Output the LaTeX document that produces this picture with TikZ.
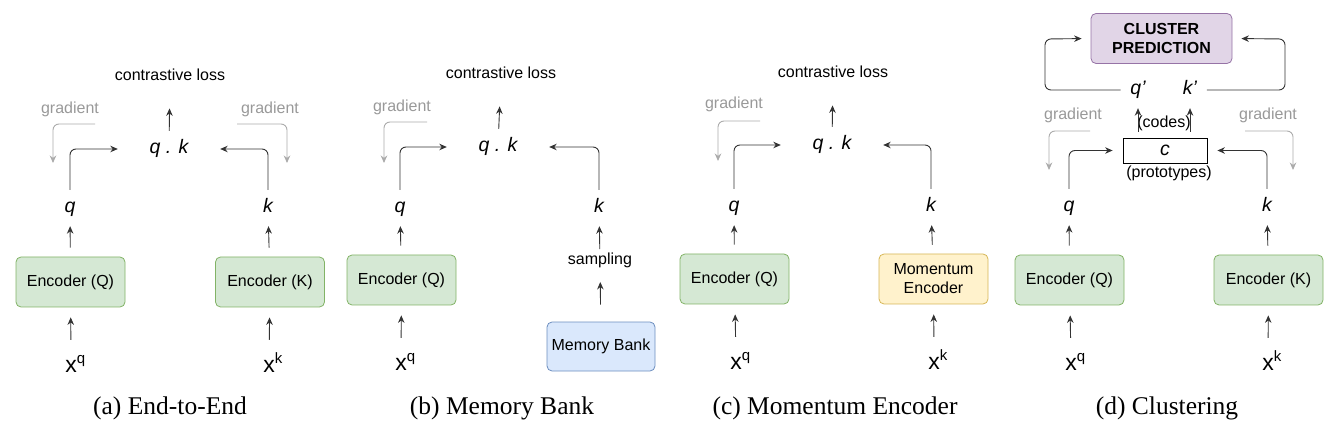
\documentclass[tikz,border=0pt]{standalone}
\usepackage{fontspec}
\setmainfont{Liberation Serif}
\setsansfont{Liberation Sans}
\usetikzlibrary{arrows.meta}
\definecolor{encfill}{HTML}{D5E8D4}
\definecolor{encdraw}{HTML}{82B366}
\definecolor{memfill}{HTML}{DAE8FC}
\definecolor{memdraw}{HTML}{6C8EBF}
\definecolor{momfill}{HTML}{FFF2CC}
\definecolor{momdraw}{HTML}{D6B656}
\definecolor{clusfill}{HTML}{E1D5E7}
\definecolor{clusdraw}{HTML}{9673A6}
\newcommand{\xin}[1]{x\rlap{\raisebox{9pt}{\fontsize{15}{15}\selectfont #1}}}
\begin{document}
\begin{tikzpicture}[x=1pt,y=-1pt,
    txt/.style={font=\sffamily\fontsize{16}{19}\selectfont},
    box/.style={txt,draw,rounded corners=5pt,minimum width=109pt,minimum height=50pt,line width=0.8pt,align=center},
    enc/.style={box,fill=encfill,draw=encdraw},
    lbl/.style={font=\sffamily\itshape\fontsize{19.5}{22}\selectfont,text height=13pt,text depth=4pt,inner sep=9.5pt},
    qk/.style={lbl,minimum width=102pt},
    inp/.style={font=\sffamily\fontsize{23}{25}\selectfont,text height=16pt,text depth=0pt,inner sep=16pt},
    captxt/.style={font=\rmfamily\fontsize{25.5}{28}\selectfont},
    gradtxt/.style={txt,black!40},
    arr/.style={-{Stealth[length=7.5pt,width=6.5pt]},line width=0.9pt,black!80},
    hook/.style={arr,rounded corners=6pt},
    grad/.style={arr,black!33,rounded corners=6pt}]
  \useasboundingbox (0,0) rectangle (1332,435);

  % (a) end-to-end
  \node[txt](lossa) at (170,75) {contrastive loss};
  \node[qk](qka) at (169,149) {q . k};
  \node[gradtxt](gla) at (70,109) {gradient};
  \node[gradtxt](gra) at (270,109) {gradient};
  \node[lbl](qa) at (70,208) {q};
  \node[lbl](ka) at (268,208) {k};
  \node[enc](encqa) at (70.5,282) {Encoder (Q)};
  \node[enc](encka) at (270,282) {Encoder (K)};
  \node[inp](xqa) at (71,364) {\xin{q}};
  \node[inp](xka) at (269,364) {\xin{k}};
  \node[captxt](capa) at (170,408) {(a) End-to-End};
  \coordinate (gla1) at (95,124);
  \coordinate (gla2) at (53,163);
  \coordinate (gra1) at (237,124);
  \coordinate (gra2) at (287,163);
  \draw[arr,shorten >=24pt](qka)--(lossa);
  \draw[hook](qa)|-(qka);
  \draw[hook](ka)|-(qka);
  \draw[grad](gla1)-|(gla2);
  \draw[grad](gra1)-|(gra2);
  \draw[arr,shorten <=9pt](encqa)--(qa);
  \draw[arr,shorten <=9pt](encka)--(ka);
  \draw[arr,shorten >=10pt](xqa)--(encqa);
  \draw[arr,shorten >=10pt](xka)--(encka);

  % (b) memory bank
  \node[txt](lossb) at (501,73) {contrastive loss};
  \node[qk](qkb) at (498,147) {q . k};
  \node[gradtxt](glb) at (402,107) {gradient};
  \node[lbl](qb) at (400,208) {q};
  \node[lbl](kb) at (599,208) {k};
  \node[enc](encqb) at (401.5,280) {Encoder (Q)};
  \node[txt](sampb) at (600,260) {sampling};
  \node[box,fill=memfill,draw=memdraw,minimum width=108pt,minimum height=49pt](memb) at (601,346.5) {Memory Bank};
  \node[inp](xqb) at (401,362) {\xin{q}};
  \node[captxt](capb) at (502,408) {(b) Memory Bank};
  \coordinate (glb1) at (427,122);
  \coordinate (glb2) at (384,163);
  \draw[arr,shorten >=24pt](qkb)--(lossb);
  \draw[hook](qb)|-(qkb);
  \draw[hook](kb)|-(qkb);
  \draw[grad](glb1)-|(glb2);
  \draw[arr,shorten <=9pt](encqb)--(qb);
  \draw[arr](sampb)--(kb);
  \draw[arr,shorten <=17pt,shorten >=11pt](memb)--(sampb);
  \draw[arr,shorten >=10pt](xqb)--(encqb);

  % (c) momentum encoder
  \node[txt](lossc) at (833,72) {contrastive loss};
  \node[qk](qkc) at (832,145) {q . k};
  \node[gradtxt](glc) at (734,104) {gradient};
  \node[lbl](qc) at (734,207) {q};
  \node[lbl](kc) at (931,207) {k};
  \node[enc](encqc) at (734.5,279) {Encoder (Q)};
  \node[box,fill=momfill,draw=momdraw](momc) at (933.5,279) {Momentum\\Encoder};
  \node[inp](xqc) at (736,361) {\xin{q}};
  \node[inp](xkc) at (934,361) {\xin{k}};
  \node[captxt](capc) at (835,408) {(c) Momentum Encoder};
  \coordinate (glc1) at (760,121);
  \coordinate (glc2) at (718,161);
  \draw[arr,shorten >=24pt](qkc)--(lossc);
  \draw[hook](qc)|-(qkc);
  \draw[hook](kc)|-(qkc);
  \draw[grad](glc1)-|(glc2);
  \draw[arr,shorten <=9pt](encqc)--(qc);
  \draw[arr,shorten <=9pt](momc)--(kc);
  \draw[arr,shorten >=10pt](xqc)--(encqc);
  \draw[arr,shorten >=10pt](xkc)--(momc);

  % (d) clustering
  \node[box,fill=clusfill,draw=clusdraw,minimum width=141pt,font=\sffamily\bfseries\fontsize{16}{19}\selectfont](clus) at (1161.5,38.5) {CLUSTER\\PREDICTION};
  \node[lbl](qpd) at (1138,90) {q'};
  \node[lbl](kpd) at (1190,90) {k'};
  \node[txt](codes) at (1164,123) {(codes)};
  \node[draw,line width=0.8pt,minimum width=84pt,minimum height=25pt,inner sep=0pt,font=\sffamily\itshape\fontsize{19.5}{22}\selectfont](cbox) at (1165,150.5) {c};
  \node[txt](proto) at (1169,173) {(prototypes)};
  \node[gradtxt](gld) at (1073,115) {gradient};
  \node[gradtxt](grd) at (1268,115) {gradient};
  \node[lbl](qd) at (1069,207) {q};
  \node[lbl](kd) at (1267,207) {k};
  \node[enc](encqd) at (1069.5,280) {Encoder (Q)};
  \node[enc](enckd) at (1268.5,280) {Encoder (K)};
  \node[inp](xqd) at (1071,362) {\xin{q}};
  \node[inp](xkd) at (1268,362) {\xin{k}};
  \node[captxt](capd) at (1167,408) {(d) Clustering};
  \coordinate (loopl) at (1045,39);
  \coordinate (loopr) at (1285,39);
  \coordinate (gld1) at (1090,131);
  \coordinate (gld2) at (1049,170);
  \coordinate (grd1) at (1245,131);
  \coordinate (grd2) at (1293,170);
  \draw[hook,shorten >=9pt](qpd.west)-|(loopl)--(clus.west);
  \draw[hook,shorten >=9pt](kpd.east)-|(loopr)--(clus.east);
  \draw[arr,shorten <=6pt](cbox.north -| qpd)--(qpd);
  \draw[arr,shorten <=6pt](cbox.north -| kpd)--(kpd);
  \draw[hook,shorten >=10pt](qd)|-(cbox);
  \draw[hook,shorten >=10pt](kd)|-(cbox);
  \draw[grad](gld1)-|(gld2);
  \draw[grad](grd1)-|(grd2);
  \draw[arr,shorten <=9pt](encqd)--(qd);
  \draw[arr,shorten <=9pt](enckd)--(kd);
  \draw[arr,shorten >=10pt](xqd)--(encqd);
  \draw[arr,shorten >=10pt](xkd)--(enckd);
\end{tikzpicture}
\end{document}
